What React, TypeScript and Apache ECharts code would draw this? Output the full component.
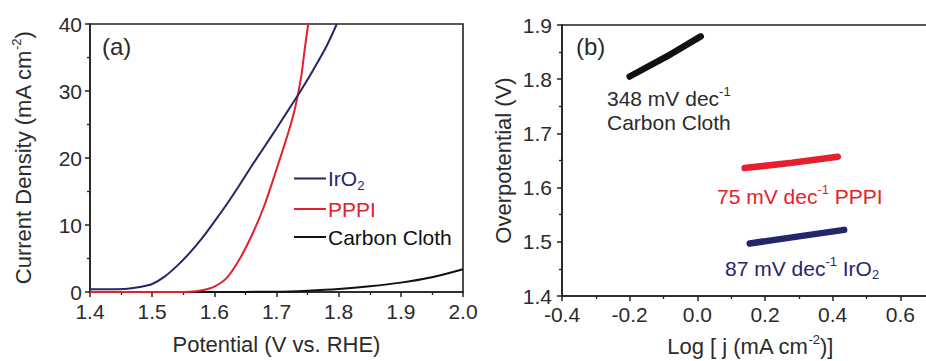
import React, { useEffect, useRef } from "react";
import * as echarts from "echarts";

// ---- Data ----
const iro2Potential = [1.40, 1.43, 1.46, 1.48, 1.50, 1.52, 1.54, 1.56, 1.58, 1.60, 1.62, 1.64, 1.66, 1.68, 1.70, 1.72, 1.74, 1.76, 1.78, 1.797];
const iro2Current = [0.40, 0.42, 0.5, 0.75, 1.2, 2.3, 3.9, 5.8, 8.0, 10.5, 13.1, 15.9, 18.8, 21.6, 24.4, 27.3, 30.2, 33.3, 36.6, 40];

const pppiPotential = [1.40, 1.50, 1.56, 1.58, 1.60, 1.62, 1.64, 1.66, 1.68, 1.70, 1.72, 1.73, 1.74, 1.745, 1.751];
const pppiCurrent = [0, 0, 0.05, 0.25, 0.8, 2.1, 4.8, 8.4, 12.8, 18.3, 24.1, 27.5, 32.3, 36, 40];

const ccPotential = [1.40, 1.50, 1.60, 1.70, 1.75, 1.80, 1.85, 1.90, 1.95, 2.00];
const ccCurrent = [0, 0, 0, 0.05, 0.2, 0.45, 0.85, 1.4, 2.2, 3.4];

const tafelCCLogJ = [-0.20, -0.09, 0.01];
const tafelCCEta = [1.805, 1.842, 1.879];
const tafelPPPILogJ = [0.14, 0.28, 0.415];
const tafelPPPIEta = [1.636, 1.646, 1.657];
const tafelIrO2LogJ = [0.155, 0.30, 0.434];
const tafelIrO2Eta = [1.497, 1.510, 1.522];

const legendNames = ["IrO2", "PPPI", "Carbon Cloth"];

const zip = (xs: number[], ys: number[]) => xs.map((x, i) => [x, ys[i]]);

const FONT = "'Liberation Sans', Arial, Helvetica, sans-serif";
const TXT = "#2b2b2b";
const AX = "#222222";
const NAVY = "#25256b";
const RED = "#e3202c";
const BLACK = "#111111";

const supRich = {
  t: { fontSize: 21, fontFamily: FONT, lineHeight: 26 },
  sup: { fontSize: 13, fontFamily: FONT, lineHeight: 13, verticalAlign: "top" },
  sub: { fontSize: 13, fontFamily: FONT, lineHeight: 10, verticalAlign: "bottom" },
};

function axisCommon(labelMargin: number, fmt: (v: number) => string) {
  return {
    axisLine: { show: true, onZero: false, lineStyle: { color: AX, width: 1.6 } },
    axisTick: { show: true, inside: false, length: 5, lineStyle: { color: AX, width: 1.5 } },
    minorTick: { show: true, splitNumber: 2, length: 3, lineStyle: { color: AX, width: 1.3 } },
    splitLine: { show: false },
    axisLabel: { color: TXT, fontSize: 21, fontFamily: FONT, margin: labelMargin, formatter: fmt },
  };
}

export default function App() {
  const ref = useRef<HTMLDivElement>(null);
  useEffect(() => {
    if (!ref.current) return;
    const chart = echarts.init(ref.current, null, { renderer: "svg" });
    const smoothLine = { type: "line", smooth: 0.3, showSymbol: false, xAxisIndex: 0, yAxisIndex: 0 };
    const option: any = {
      animation: false,
      backgroundColor: "#ffffff",
      textStyle: { fontFamily: FONT },
      grid: [
        { left: 90, top: 24, width: 373, height: 268, show: true, borderColor: AX, borderWidth: 1.6, outerBoundsMode: "none", containLabel: false },
        { left: 562, top: 25, width: 406, height: 271, show: true, borderColor: AX, borderWidth: 1.6, outerBoundsMode: "none", containLabel: false },
      ],
      xAxis: [
        {
          type: "value", gridIndex: 0, min: 1.4, max: 2.0, interval: 0.1,
          ...axisCommon(9, (v: number) => v.toFixed(1)),
          name: "Potential (V vs. RHE)", nameLocation: "middle", nameGap: 41,
          nameTextStyle: { color: TXT, fontSize: 22, fontFamily: FONT },
        },
        {
          type: "value", gridIndex: 1, min: -0.4, max: 0.8, interval: 0.2,
          ...axisCommon(8, (v: number) => (v > 0.65 ? "" : v.toFixed(1))),
          showMaxLabel: false,
        },
      ],
      yAxis: [
        {
          type: "value", gridIndex: 0, min: 0, max: 40, interval: 10,
          ...axisCommon(8, (v: number) => String(v)),
          name: "{t|Current Density (mA cm}{sup|-2}{t|)}", nameLocation: "middle", nameGap: 54,
          nameTextStyle: { color: TXT, fontSize: 22, fontFamily: FONT, rich: { t: { fontSize: 22, fontFamily: FONT, lineHeight: 26 }, sup: supRich.sup } },
        },
        {
          type: "value", gridIndex: 1, min: 1.4, max: 1.9, interval: 0.1,
          ...axisCommon(10, (v: number) => v.toFixed(1)),
          name: "Overpotential (V)", nameLocation: "middle", nameGap: 48,
          nameTextStyle: { color: TXT, fontSize: 22, fontFamily: FONT },
        },
      ],
      legend: {
        show: true,
        orient: "vertical",
        left: 289,
        top: 163,
        itemWidth: 32,
        itemHeight: 2,
        itemGap: 7,
        icon: "rect",
        data: [
          { name: legendNames[0], textStyle: { color: NAVY } },
          { name: legendNames[1], textStyle: { color: RED } },
          { name: legendNames[2], textStyle: { color: BLACK } },
        ],
        formatter: (n: string) => (n === "IrO2" ? "{t|IrO}{sub|2}" : "{t|" + n + "}"),
        textStyle: { fontSize: 21, fontFamily: FONT, padding: [0, 0, 0, -3], rich: supRich },
      },
      series: [
        {
          ...smoothLine, name: "Carbon Cloth",
          lineStyle: { color: BLACK, width: 2 }, itemStyle: { color: BLACK },
          data: zip(ccPotential, ccCurrent),
        },
        {
          ...smoothLine, name: "PPPI",
          lineStyle: { color: RED, width: 2 }, itemStyle: { color: RED },
          data: zip(pppiPotential, pppiCurrent),
        },
        {
          ...smoothLine, name: "IrO2",
          lineStyle: { color: NAVY, width: 2 }, itemStyle: { color: NAVY },
          data: zip(iro2Potential, iro2Current),
        },
        {
          name: "Tafel Carbon Cloth", type: "line", xAxisIndex: 1, yAxisIndex: 1, showSymbol: false,
          lineStyle: { color: BLACK, width: 6.5, cap: "round" },
          data: zip(tafelCCLogJ, tafelCCEta),
        },
        {
          name: "Tafel PPPI", type: "line", xAxisIndex: 1, yAxisIndex: 1, showSymbol: false,
          lineStyle: { color: RED, width: 6.5, cap: "round" },
          data: zip(tafelPPPILogJ, tafelPPPIEta),
        },
        {
          name: "Tafel IrO2", type: "line", xAxisIndex: 1, yAxisIndex: 1, showSymbol: false,
          lineStyle: { color: NAVY, width: 6.5, cap: "round" },
          data: zip(tafelIrO2LogJ, tafelIrO2Eta),
        },
      ],
      graphic: [
        { type: "text", left: 102, top: 34, style: { text: "(a)", fontSize: 24, fontFamily: FONT, fill: TXT } },
        { type: "text", left: 576, top: 34, style: { text: "(b)", fontSize: 24, fontFamily: FONT, fill: TXT } },
        {
          type: "text", x: 607, y: 98,
          style: { text: "{t|348 mV dec}{sup|-1}", rich: supRich, fill: TXT, verticalAlign: "middle", align: "left" },
        },
        {
          type: "text", x: 607, y: 122,
          style: { text: "{t|Carbon Cloth}", rich: supRich, fill: TXT, verticalAlign: "middle", align: "left" },
        },
        {
          type: "text", x: 717, y: 196,
          style: { text: "{t|75 mV dec}{sup|-1}{t| PPPI}", rich: supRich, fill: RED, verticalAlign: "middle", align: "left" },
        },
        {
          type: "text", x: 725, y: 268,
          style: { text: "{t|87 mV dec}{sup|-1}{t| IrO}{sub|2}", rich: supRich, fill: NAVY, verticalAlign: "middle", align: "left" },
        },
        {
          // right x-axis title, centred on the visible part of panel (b)
          type: "text", x: 750, y: 333,
          style: { text: "{t|Log [ j (mA cm}{sup|-2}{t|)]}", rich: { t: { fontSize: 22, fontFamily: FONT, lineHeight: 26 }, sup: supRich.sup }, fill: TXT, verticalAlign: "top", align: "center" },
        },
      ],
    };
    chart.setOption(option);
    return () => chart.dispose();
  }, []);
  return (
    <div
      ref={ref}
      style={{ position: "absolute", left: 0, top: 0, width: 926, height: 361, overflow: "hidden" }}
    />
  );
}
